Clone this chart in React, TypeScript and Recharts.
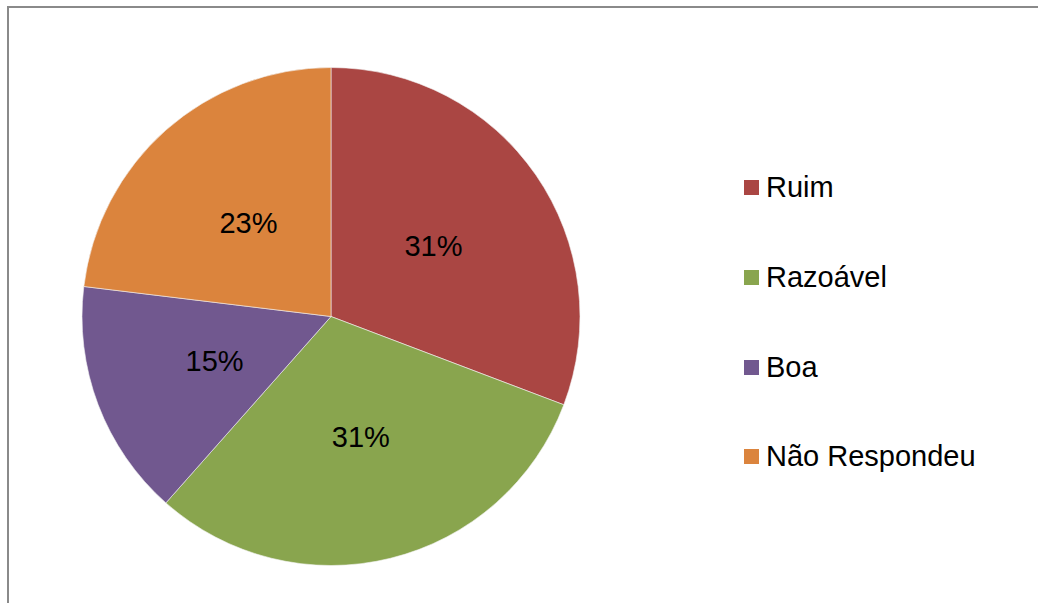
import React from 'react';
import { PieChart, Pie, Cell, Legend } from 'recharts';

const categories = ['Ruim', 'Razoável', 'Boa', 'Não Respondeu'];
const values = [4, 4, 2, 3];
const colors = ['#AA4643', '#89A54E', '#71588F', '#DB843D'];

const data = categories.map((name, i) => ({ name, value: values[i] }));

const FONT = '"Liberation Sans", Arial, sans-serif';
const RAD = Math.PI / 180;

const renderLabel = (props: any) => {
  const { cx, cy, midAngle, outerRadius, percent } = props;
  const r = outerRadius * 0.5;
  const x = cx + r * Math.cos(-midAngle * RAD);
  const y = cy + r * Math.sin(-midAngle * RAD);
  return (
    <text x={x} y={y} fill="#000" textAnchor="middle" dominantBaseline="central" fontFamily={FONT} fontSize={29}>
      {`${Math.round(percent * 100)}%`}
    </text>
  );
};

const renderLegend = (props: any) => {
  const payload = [...(props.payload || [])].sort(
    (a: any, b: any) => categories.indexOf(a.value) - categories.indexOf(b.value)
  );
  return (
    <div style={{ fontFamily: FONT, fontSize: 29, color: '#000' }}>
      {payload.map((entry: any, i: number) => (
        <div key={i} style={{ height: 89.7, display: 'flex', alignItems: 'center' }}>
          <span style={{ display: 'inline-block', width: 15, height: 15, background: entry.color, marginRight: 7 }} />
          <span>{entry.value}</span>
        </div>
      ))}
    </div>
  );
};

export default function App() {
  return (
    <div style={{ position: 'absolute', left: 0, top: 0, width: 1038, height: 603, background: '#fff', overflow: 'hidden' }}>
      <div style={{ position: 'absolute', left: 7, top: 6, width: 1100, height: 700, borderTop: '2px solid #8a8a8a', borderLeft: '2px solid #8a8a8a' }} />
      <div style={{ position: 'absolute', left: 0, top: 0 }}>
        <PieChart width={1038} height={603} margin={{ top: 0, right: 0, bottom: 0, left: 0 }}>
          <Pie
            data={data}
            dataKey="value"
            nameKey="name"
            cx={331}
            cy={316.5}
            outerRadius={249}
            startAngle={90}
            endAngle={-270}
            stroke="#f4f4f4"
            strokeWidth={0.6}
            label={renderLabel}
            labelLine={false}
            isAnimationActive={false}
          >
            {data.map((d, i) => (
              <Cell key={d.name} fill={colors[i]} />
            ))}
          </Pie>
          <Legend
            layout="vertical"
            align="right"
            verticalAlign="top"
            content={renderLegend}
            wrapperStyle={{ left: 744, top: 143, width: 290, right: 'auto', bottom: 'auto' }}
          />
        </PieChart>
      </div>
    </div>
  );
}
